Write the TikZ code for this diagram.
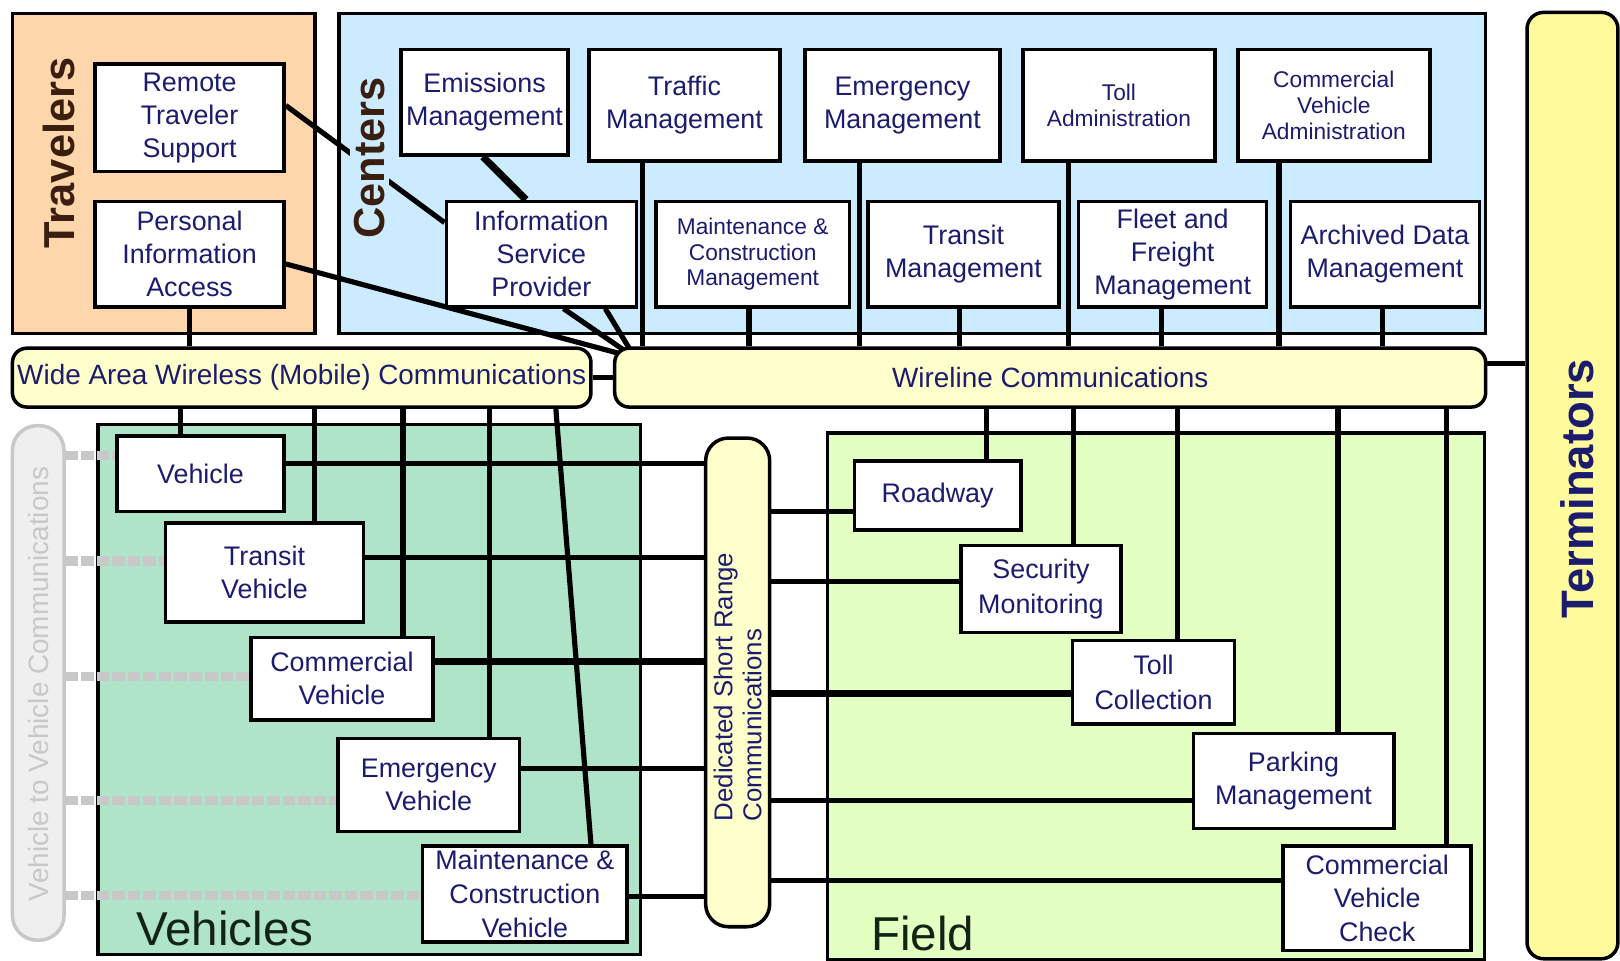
\documentclass[tikz,border=0pt]{standalone}
\usepackage{fontspec}
\setmainfont{Liberation Sans}
\usetikzlibrary{calc}
\definecolor{travfill}{HTML}{FDD6AC}
\definecolor{centfill}{HTML}{CCEBFF}
\definecolor{commfill}{HTML}{FFFFCC}
\definecolor{vehfill}{HTML}{B0E4C9}
\definecolor{fieldfill}{HTML}{E3FFC1}
\definecolor{termfill}{HTML}{FFFB9C}
\definecolor{vvfill}{HTML}{EFEFEF}
\definecolor{vvline}{HTML}{C8C8C8}
\definecolor{txt}{HTML}{1C1C6E}
\definecolor{darkbrown}{HTML}{3A1E10}
\definecolor{darkgreen}{HTML}{142414}
\pgfdeclarelayer{bg}
\pgfdeclarelayer{lines}
\pgfsetlayers{bg,lines,main}
\newcommand\mybox[7][]{\node[box,#1,minimum width={(#5-#3)*0.5pt},minimum height={(#6-#4)*0.5pt}] (#2) at ({(#3+#5)/2},{(#4+#6)/2}) {#7};}
\begin{document}
\begin{tikzpicture}[x=0.5pt,y=-0.5pt,
  box/.style={draw,line width=1.7pt,fill=white,align=center,inner sep=0pt,text=txt,font=\fontsize{13}{16}\selectfont},
  region/.style={draw,line width=1.6pt},
  conn/.style={line width=2.5pt},
  thickconn/.style={line width=3.2pt},
  vv/.style={vvline,line width=4.5pt,dash pattern=on 6pt off 1.5pt},
  comm/.style={fill=commfill,rounded corners=7pt,font=\fontsize{13.5}{16}\selectfont},
  biglbl/.style={rotate=90,font=\fontsize{21}{24}\selectfont\bfseries},
]
\useasboundingbox (0,0) rectangle (1568,930);

% containers
\begin{pgfonlayer}{bg}
\path[region,fill=travfill] (12,13) rectangle (305,323);
\path[region,fill=centfill] (328,13) rectangle (1438,323);
\path[region,fill=vehfill] (95,411) rectangle (620,924);
\path[region,fill=fieldfill] (801,419) rectangle (1437,929);
\end{pgfonlayer}

% communication bars and terminators
\mybox[comm]{wa}{12}{337}{572}{394}{Wide Area Wireless (Mobile) Communications}
\mybox[comm]{wl}{595}{337}{1438}{394}{Wireline Communications}
\mybox[comm,rounded corners=11pt]{dsrc}{683}{424}{745}{897}{}
\mybox[comm,fill=termfill,rounded corners=8pt]{term}{1478}{12}{1566}{928}{}
\mybox[comm,draw=vvline,fill=vvfill,rounded corners=12pt]{v2v}{12}{412}{62}{910}{}

% travelers
\mybox{rts}{92}{62}{275}{166}{Remote\\Traveler\\Support}
\mybox{pia}{92}{195}{275}{297}{Personal\\Information\\Access}

% centers
\mybox{em}{388}{48}{550}{150}{Emissions\\Management}
\mybox{tm}{570}{48}{755}{156}{Traffic\\Management}
\mybox{emm}{779}{48}{968}{156}{Emergency\\Management}
\mybox[font=\fontsize{11}{12.5}\selectfont]{ta}{990}{48}{1176}{156}{Toll\\Administration}
\mybox[font=\fontsize{11}{12.5}\selectfont]{cva}{1198}{48}{1384}{156}{Commercial\\Vehicle\\Administration}
\mybox{isp}{432}{195}{616}{297}{Information\\Service\\Provider}
\mybox[font=\fontsize{11}{12.5}\selectfont]{mcm}{635}{195}{822}{297}{Maintenance \&\\Construction\\Management}
\mybox{trm}{840}{195}{1025}{297}{Transit\\Management}
\mybox{ffm}{1044}{195}{1226}{297}{Fleet and\\Freight\\Management}
\mybox{adm}{1249}{195}{1432}{297}{Archived Data\\Management}

% vehicles
\mybox{veh}{113}{422}{275}{495}{Vehicle}
\mybox{tv}{160}{506}{352}{602}{Transit\\Vehicle}
\mybox{cv}{243}{617}{419}{697}{Commercial\\Vehicle}
\mybox{ev}{327}{715}{503}{805}{Emergency\\Vehicle}
\mybox[font=\fontsize{13}{16.5}\selectfont]{mcv}{409}{819}{607}{912}{Maintenance \&\\Construction\\Vehicle}

% field
\mybox{road}{827}{446}{988}{513}{Roadway}
\mybox[font=\fontsize{13}{17}\selectfont]{sec}{930}{528}{1085}{612}{Security\\Monitoring}
\mybox[font=\fontsize{13}{17}\selectfont]{toll}{1038}{620}{1195}{701}{Toll\\Collection}
\mybox{park}{1155}{710}{1349}{802}{Parking\\Management}
\mybox{cvc}{1242}{819}{1424}{920}{Commercial\\Vehicle\\Check}

% labels
\node[biglbl,text=darkbrown] (travlbl) at (57,148) {Travelers};
\node[biglbl,text=darkbrown,fill=centfill,inner sep=2pt] (centlbl) at (358,153) {Centers};
\node[biglbl,text=txt,font=\fontsize{22}{24}\selectfont\bfseries] (termlbl) at (1527,473) {Terminators};
\node[rotate=90,align=left,text=txt,font=\fontsize{12.5}{14}\selectfont] (dsrclbl) at (714,665) {Dedicated Short Range\\Communications};
\node[rotate=90,text=vvline,font=\fontsize{13.5}{16}\selectfont] (vvlbl) at (37,662) {Vehicle to Vehicle Communications};
\node[anchor=base west,text=darkgreen,font=\fontsize{23}{26}\selectfont] (vehlbl) at (125,915) {Vehicles};
\node[anchor=base west,text=darkgreen,font=\fontsize{23}{26}\selectfont] (fieldlbl) at (836,920) {Field};

% helper coordinates
\coordinate (j1) at (599,342);
\coordinate (j2) at (604,339);
\coordinate (j3) at (609,337);
\foreach \n/\x in {cT/622,cE/832,cA/1034,cC/1238,cM/725,cR/929,cF/1124,cD/1338,
  vA/175,vB/304,vC/390,vD/474,vE/538,vF/572,fA/955,fB/1039,fC/1140,fD/1295,fE/1400}
  \coordinate (\n) at (\x,0);
\foreach \n/\y in {hA/449,hB/540,hC/640,hD/744,hE/868,gA/495,gB/563,gC/671,gD/775,gE/852,
  dA/441,dB/543,dC/655,dD/775,dE/867,tt/352}
  \coordinate (\n) at (0,\y);

\begin{pgfonlayer}{lines}
% travelers / centers links
\draw[conn] (pia.south) -- (pia.south |- wa.north);
\draw[conn] ($(rts.north east)!0.39!(rts.south east)$) -- ($(isp.north west)!0.21!(isp.south west)$);
\draw[line width=3.5pt] ($(em.south west)!0.49!(em.south east)$) -- ($(isp.north west)!0.42!(isp.north east)$);
\draw[conn] ($(pia.north east)!0.59!(pia.south east)$) -- (j1);
\draw[conn] ($(isp.south west)!0.614!(isp.south east)$) -- (j2);
\draw[conn] ($(isp.south west)!0.83!(isp.south east)$) -- (j3);
% centers to wireline
\draw[conn] (tm.south -| cT) -- (wl.north -| cT);
\draw[conn] (emm.south -| cE) -- (wl.north -| cE);
\draw[conn] (ta.south -| cA) -- (wl.north -| cA);
\draw[conn] (cva.south -| cC) -- (wl.north -| cC);
\draw[conn] (mcm.south -| cM) -- (wl.north -| cM);
\draw[conn] (trm.south -| cR) -- (wl.north -| cR);
\draw[conn] (ffm.south -| cF) -- (wl.north -| cF);
\draw[conn] (adm.south -| cD) -- (wl.north -| cD);
% bars
\draw[conn] (wa.east) -- (wl.west);
\draw[conn] (wl.east |- tt) -- (term.west |- tt);
% wide area to vehicles
\draw[conn] (wa.south -| vA) -- (veh.north -| vA);
\draw[conn] (wa.south -| vB) -- (tv.north -| vB);
\draw[conn] (wa.south -| vC) -- (cv.north -| vC);
\draw[conn] (wa.south -| vD) -- (ev.north -| vD);
\draw[conn] (wa.south -| vE) -- (mcv.north -| vF);
% vehicles to dsrc
\draw[conn] (veh.east |- hA) -- (dsrc.west |- hA);
\draw[conn] (tv.east |- hB) -- (dsrc.west |- hB);
\draw[thickconn] (cv.east |- hC) -- (dsrc.west |- hC);
\draw[conn] (ev.east |- hD) -- (dsrc.west |- hD);
\draw[conn] (mcv.east |- hE) -- (dsrc.west |- hE);
% dsrc to field
\draw[conn] (dsrc.east |- gA) -- (road.west |- gA);
\draw[conn] (dsrc.east |- gB) -- (sec.west |- gB);
\draw[thickconn] (dsrc.east |- gC) -- (toll.west |- gC);
\draw[conn] (dsrc.east |- gD) -- (park.west |- gD);
\draw[conn] (dsrc.east |- gE) -- (cvc.west |- gE);
% wireline to field
\draw[conn] (wl.south -| fA) -- (road.north -| fA);
\draw[conn] (wl.south -| fB) -- (sec.north -| fB);
\draw[conn] (wl.south -| fC) -- (toll.north -| fC);
\draw[conn] (wl.south -| fD) -- (park.north -| fD);
\draw[conn] (wl.south -| fE) -- (cvc.north -| fE);
% vehicle to vehicle
\draw[vv] (v2v.east |- dA) -- (veh.west |- dA);
\draw[vv] (v2v.east |- dB) -- (tv.west |- dB);
\draw[vv] (v2v.east |- dC) -- (cv.west |- dC);
\draw[vv] (v2v.east |- dD) -- (ev.west |- dD);
\draw[vv] (v2v.east |- dE) -- (mcv.west |- dE);
\end{pgfonlayer}
\end{tikzpicture}
\end{document}
